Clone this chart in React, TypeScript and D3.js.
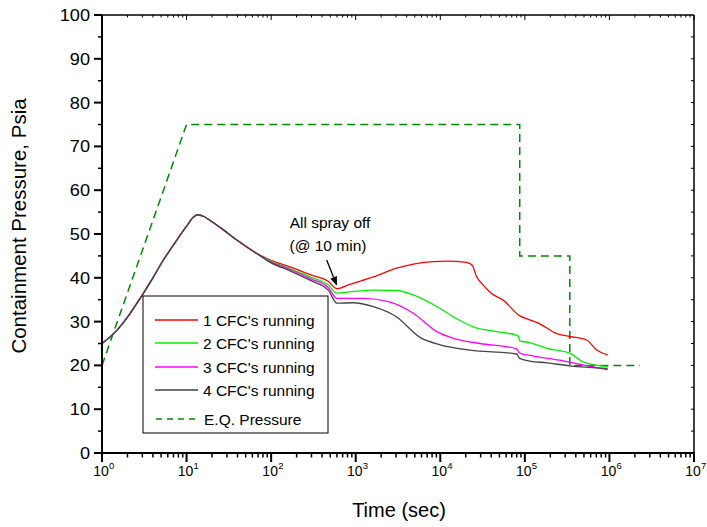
import React from "react";
import * as d3 from "d3";

// ---------- data ----------
const commonT = [1, 1.5, 2, 2.8, 4, 5.1, 7, 10, 12, 13.6, 16, 20, 27, 40, 67];
const commonP = [25, 28, 31, 35.2, 40, 43.5, 47.5, 51.8, 53.8, 54.4, 54, 52.8, 51, 48.5, 45.6];

const red_T = [100, 167, 300, 473, 600, 850, 1620, 3040, 5000, 8240, 12000, 20400, 24000, 26800, 32100, 40000, 55400, 87300, 114000, 150000, 234000, 340000, 537000, 708000, 955000];
const red_P = [44, 42.5, 40.6, 39.2, 37.5, 38.5, 40.2, 42.2, 43.2, 43.7, 43.8, 43.5, 42.8, 40.3, 38.4, 36.5, 34.9, 31.3, 30.4, 29.5, 27.3, 26.6, 25.8, 23.5, 22.4];

const green_T = [100, 167, 300, 473, 600, 850, 1620, 3040, 4800, 10000, 15500, 24500, 46800, 83000, 87000, 114000, 182000, 340000, 490000, 955000];
const green_P = [43.8, 42.1, 40.1, 38.4, 36.5, 36.8, 37.2, 37.1, 36.1, 33.0, 30.7, 28.8, 27.7, 26.8, 25.6, 25.2, 23.9, 22.8, 20.8, 19.7];

const magenta_T = [100, 167, 300, 473, 600, 1230, 2500, 4800, 9100, 15500, 29500, 80000, 87000, 114000, 257000, 490000, 955000];
const magenta_P = [43.6, 41.9, 39.7, 37.8, 35.3, 35.3, 34.5, 31.9, 27.7, 26.0, 25.0, 23.8, 22.8, 22.3, 21.2, 20.1, 19.0];

const black_T = [100, 167, 300, 473, 600, 930, 1620, 3020, 5750, 10000, 22400, 80000, 87000, 114000, 182000, 340000, 955000];
const black_P = [43.4, 41.6, 39.3, 37.2, 34.2, 34.3, 33.4, 31.1, 26.4, 24.7, 23.5, 22.6, 21.6, 21.0, 20.6, 19.9, 19.3];

const eq_T = [1, 10, 87000, 87000, 340000, 340000, 2300000];
const eq_P = [20, 75, 75, 45, 45, 20, 20];

const seriesNames = ["1 CFC's running", "2 CFC's running", "3 CFC's running", "4 CFC's running"];
const eqName = "E.Q. Pressure";
const yTicks = [0, 10, 20, 30, 40, 50, 60, 70, 80, 90, 100];
const xExponents = [0, 1, 2, 3, 4, 5, 6, 7];
const annotation = ["All spray off", "(@ 10 min)"];
const xTitle = "Time (sec)";
const yTitle = "Containment Pressure, Psia";

const colors = ["#ff0000", "#00f000", "#ff00ff", "#444444"];
const eqColor = "#008a00";

export default function App() {
  const W = 707, H = 527;
  const L = 102, R = 694, T = 15, B = 453;
  const x = d3.scaleLog().domain([1, 1e7]).range([L, R]);
  const y = d3.scaleLinear().domain([0, 100]).range([B, T]);
  const line = d3.line<[number, number]>().x(d => x(d[0])).y(d => y(d[1]));
  const smooth = d3.line<[number, number]>().x(d => x(d[0])).y(d => y(d[1])).curve(d3.curveMonotoneX);

  const build = (t: number[], p: number[]) => {
    const pts: [number, number][] = commonT.map((v, i) => [v, commonP[i]]);
    t.forEach((v, i) => pts.push([v, p[i]]));
    return pts;
  };
  const series = [
    build(red_T, red_P),
    build(green_T, green_P),
    build(magenta_T, magenta_P),
    build(black_T, black_P),
  ];
  const eqPts: [number, number][] = eq_T.map((v, i) => [v, eq_P[i]]);

  const font = "'Liberation Sans', Arial, sans-serif";

  const minorX: number[] = [];
  for (let e = 0; e < 7; e++) for (let k = 2; k <= 9; k++) minorX.push(k * Math.pow(10, e));
  const minorY = d3.range(5, 100, 10);
  const rightTicks = d3.range(5, 100, 5);

  // legend
  const lgX = 143, lgY = 296, lgW = 185, lgH = 137;
  const rowY = [320, 343, 367, 390];

  // arrow
  const ax1 = 326.7, ay1 = 260, ax2 = x(600), ay2 = y(37.5) - 3;
  const ang = Math.atan2(ay2 - ay1, ax2 - ax1);
  const hl = 9, hw = 3.5;
  const hx = ax2 - hl * Math.cos(ang), hy = ay2 - hl * Math.sin(ang);
  const arrowHead = `M${ax2},${ay2} L${hx + hw * Math.sin(ang)},${hy - hw * Math.cos(ang)} L${hx - hw * Math.sin(ang)},${hy + hw * Math.cos(ang)} Z`;

  return (
    <svg width={W} height={H} style={{ position: "absolute", left: 0, top: 0, background: "#fff" }} fontFamily={font}>
      <defs>
        <clipPath id="plot">
          <rect x={L} y={T} width={R - L} height={B - T} />
        </clipPath>
      </defs>
      <rect x={0} y={0} width={W} height={H} fill="#fff" />
      <g clipPath="url(#plot)">
        <path d={line(eqPts) || ""} fill="none" stroke={eqColor} strokeWidth={1.5} strokeDasharray="8,5" />
        {series.map((s, i) => (
          <path key={i} d={smooth(s) || ""} fill="none" stroke={colors[i]} strokeWidth={1.3} />
        ))}
      </g>

      {/* annotation */}
      <text x={330} y={228} fontSize={15.5} textAnchor="middle">{annotation[0]}</text>
      <text x={328} y={251} fontSize={15.5} textAnchor="middle">{annotation[1]}</text>
      <line x1={ax1} y1={ay1} x2={hx} y2={hy} stroke="#000" strokeWidth={1.3} />
      <path d={arrowHead} fill="#000" />

      {/* legend */}
      <rect x={lgX} y={lgY} width={lgW} height={lgH} fill="#fff" stroke="#000" strokeWidth={1} />
      {seriesNames.map((n, i) => (
        <g key={n}>
          <line x1={155} x2={198} y1={rowY[i]} y2={rowY[i]} stroke={colors[i]} strokeWidth={1.3} />
          <text x={203} y={rowY[i] + 5.5} fontSize={15.5}>{n}</text>
        </g>
      ))}
      <line x1={156} x2={196} y1={419} y2={419} stroke={eqColor} strokeWidth={1.5} strokeDasharray="6,5" />
      <text x={204} y={424.5} fontSize={15.5}>{eqName}</text>

      {/* frame */}
      <line x1={R} x2={R} y1={T} y2={B} stroke="#000" strokeWidth={1.5} />
      <line x1={L} x2={R} y1={T} y2={T} stroke="#000" strokeWidth={1.5} />
      <line x1={L} x2={L} y1={T} y2={B + 1} stroke="#000" strokeWidth={2} />
      <line x1={L - 1} x2={R + 1} y1={B} y2={B} stroke="#000" strokeWidth={2} />

      {/* y ticks */}
      {yTicks.map(v => (
        <g key={v}>
          <line x1={L - 8} x2={L} y1={y(v)} y2={y(v)} stroke="#000" strokeWidth={2} />
          <text transform={`translate(${L - 12},${y(v) + 6}) scale(1.1,1)`} fontSize={16.5} textAnchor="end">{v}</text>
        </g>
      ))}
      {minorY.map(v => (
        <line key={v} x1={L - 4} x2={L} y1={y(v)} y2={y(v)} stroke="#000" strokeWidth={1.5} />
      ))}
      {rightTicks.map(v => (
        <line key={v} x1={R - 3} x2={R} y1={y(v)} y2={y(v)} stroke="#000" strokeWidth={1} />
      ))}

      {/* x ticks */}
      {xExponents.map(e => (
        <g key={e}>
          <line x1={x(Math.pow(10, e))} x2={x(Math.pow(10, e))} y1={B} y2={B + 9} stroke="#000" strokeWidth={2} />
          <line x1={x(Math.pow(10, e))} x2={x(Math.pow(10, e))} y1={T} y2={T + 5} stroke="#000" strokeWidth={1} />
          <text x={x(Math.pow(10, e)) - 1} y={476} fontSize={14} textAnchor="middle">10</text>
          <text x={x(Math.pow(10, e)) + 7} y={469} fontSize={9.5}>{e}</text>
        </g>
      ))}
      {minorX.map((v, i) => (
        <g key={i}>
          <line x1={x(v)} x2={x(v)} y1={B} y2={B + 4.5} stroke="#000" strokeWidth={1.5} />
          <line x1={x(v)} x2={x(v)} y1={T} y2={T + 2.5} stroke="#000" strokeWidth={1} />
        </g>
      ))}

      {/* titles */}
      <text x={399} y={517} fontSize={20} textAnchor="middle">{xTitle}</text>
      <text transform={`translate(26,226) rotate(-90)`} fontSize={20.5} textAnchor="middle">{yTitle}</text>
    </svg>
  );
}
